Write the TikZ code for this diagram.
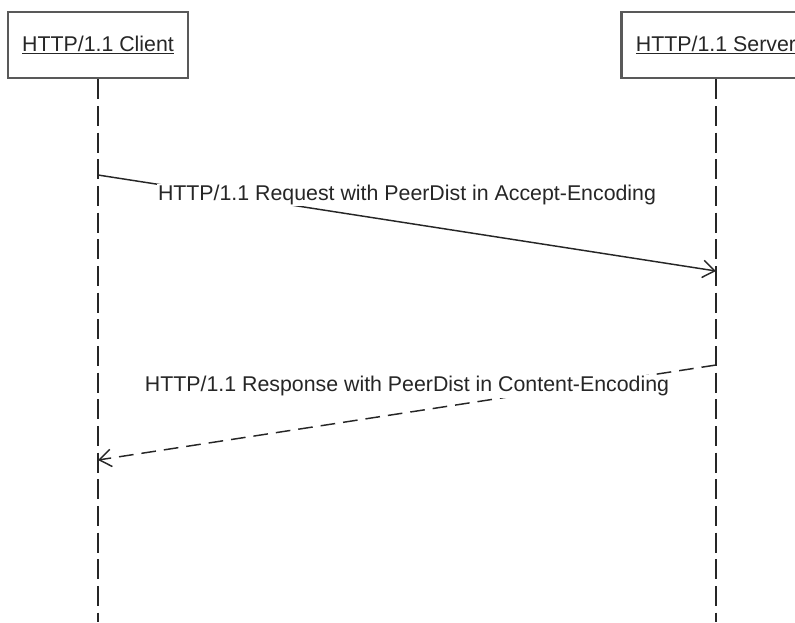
\documentclass[tikz,border=0pt]{standalone}
\usepackage{fontspec}
\setmainfont{Liberation Sans}
\usetikzlibrary{arrows.meta,positioning}

\begin{document}
\begin{tikzpicture}[x=0.75pt,y=-0.75pt,>={Straight Barb[length=9pt,width=13pt]},
 every node/.style={font=\fontsize{16}{19}\selectfont,text=black!85},
 actor/.style={draw=black!65,line width=2pt,minimum height=49.5pt,inner sep=0pt},
 lifeline/.style={draw=black!85,line width=1.4pt,dash pattern=on 15pt off 5pt},
 msg/.style={draw=black!85,line width=1.1pt,->},
 msglabel/.style={anchor=base,fill=white,inner sep=1pt}]
\useasboundingbox (0,0) rectangle (795,622);
\node[actor,minimum width=135pt](client) at (98,45){\underline{HTTP/1.1 Client}};
\node[actor,minimum width=142pt,right=323pt of client](server){\underline{HTTP/1.1 Server}};
% lifelines
\coordinate (cbot) at (client.south |- 0,622);
\coordinate (sbot) at (server.south |- 0,622);
\draw[lifeline](client.south)--(cbot);
\draw[lifeline](server.south)--(sbot);
% messages
\coordinate (reqfrom) at (client.south |- 0,175);
\coordinate (reqto) at (server.south |- 0,271);
\coordinate (respfrom) at (server.south |- 0,365);
\coordinate (respto) at (client.south |- 0,460);
\draw[msg](reqfrom)--node[msglabel,yshift=17pt]{HTTP/1.1 Request with PeerDist in Accept-Encoding}(reqto);
\draw[msg,dash pattern=on 11pt off 6pt](respfrom)--node[msglabel,yshift=15.5pt]{HTTP/1.1 Response with PeerDist in Content-Encoding}(respto);
\end{tikzpicture}
\end{document}
